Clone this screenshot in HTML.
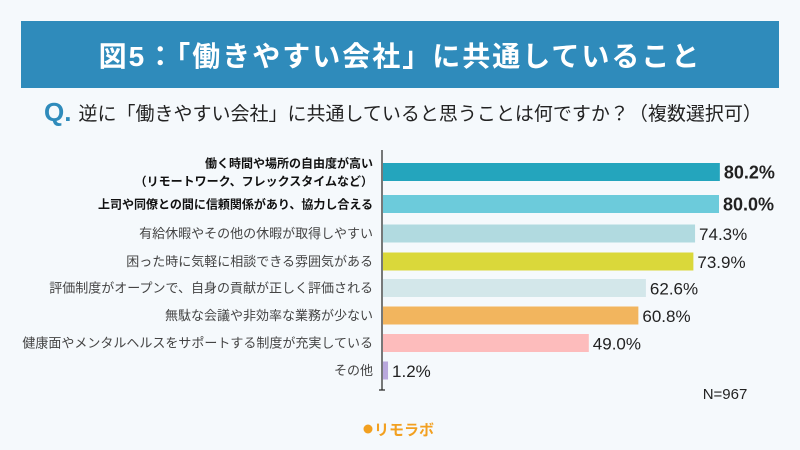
<!DOCTYPE html>
<html><head><meta charset="utf-8">
<style>
body{margin:0;width:800px;height:450px;background:#f5f9fc;font-family:"Liberation Sans","Noto Sans CJK JP",sans-serif;overflow:hidden;position:relative}
#banner{position:absolute;left:21px;top:21px;width:758px;height:67px;background:#2f8bbb;color:#fff;font-weight:bold;font-size:28px;display:flex;align-items:center;justify-content:center;letter-spacing:2px}
#q{position:absolute;left:44px;top:97px;font-size:19px;color:#222;display:flex;align-items:center;white-space:nowrap}
#q b{color:#2f8bbb;font-size:26px;margin-right:7px}
</style></head><body>
<div id="banner">図5：「働きやすい会社」に共通していること</div>
<div id="q"><b>Q.</b>逆に「働きやすい会社」に共通していると思うことは何ですか？（複数選択可）</div>
<svg id="chart" width="800" height="450" style="position:absolute;left:0;top:0"></svg>
<script>
const categories=["働く時間や場所の自由度が高い|（リモートワーク、フレックスタイムなど）","上司や同僚との間に信頼関係があり、協力し合える","有給休暇やその他の休暇が取得しやすい","困った時に気軽に相談できる雰囲気がある","評価制度がオープンで、自身の貢献が正しく評価される","無駄な会議や非効率な業務が少ない","健康面やメンタルヘルスをサポートする制度が充実している","その他"];
const values=[80.2,80.0,74.3,73.9,62.6,60.8,49.0,1.2];
const colors=["#24a5bd","#6ccbdb","#b1dae0","#dad83a","#d3e7ea","#f2b55e","#fdbcbc","#b9a8dc"];
const svg=document.getElementById('chart');const NS="http://www.w3.org/2000/svg";
const x0=383,scale=4.2;
const ys=[172,204,233.5,261.5,288,315.5,343,370.5];
const xs=v=>x0+v*scale;
function mk(t,a){const e=document.createElementNS(NS,t);for(const k in a)e.setAttribute(k,a[k]);svg.appendChild(e);return e;}
values.forEach((v,i)=>{
 const y=ys[i];const bold=i<2;
 const r=mk('rect',{x:x0,y:y-9,width:xs(v)-x0,height:18,fill:colors[i]});
 
 
 const t=mk('text',{x:xs(v)+4,y:y+6.5,'font-size':bold?18:17,'font-weight':bold?'bold':'normal',fill:'#222'});
 t.textContent=v.toFixed(1)+'%';
 
 
 const parts=categories[i].split('|');
 parts.forEach((p,j)=>{
  const l=mk('text',{x:373,y:y+4.5+(parts.length>1?(j-0.5)*18:0),'text-anchor':'end','font-size':bold?12:13,'font-weight':bold?'bold':'normal',fill:bold?'#111':'#444'});
  l.textContent=p;
  
  
 });
});
const ax=mk('line',{x1:382,y1:150,x2:382,y2:390,stroke:'#222','stroke-width':1.2});


mk('line',{x1:379,y1:390,x2:385,y2:390,stroke:'#222','stroke-width':1.2});
const n=mk('text',{x:725,y:399,'font-size':15,fill:'#222','text-anchor':'middle'});n.textContent='N=967';


const c=mk('circle',{cx:368,cy:429,r:4.5,fill:'#f2a020'});
const lg=mk('text',{x:374,y:435,'font-size':15,'font-weight':'bold',fill:'#f2a020'});lg.textContent='リモラボ';


</script>
</body></html>
